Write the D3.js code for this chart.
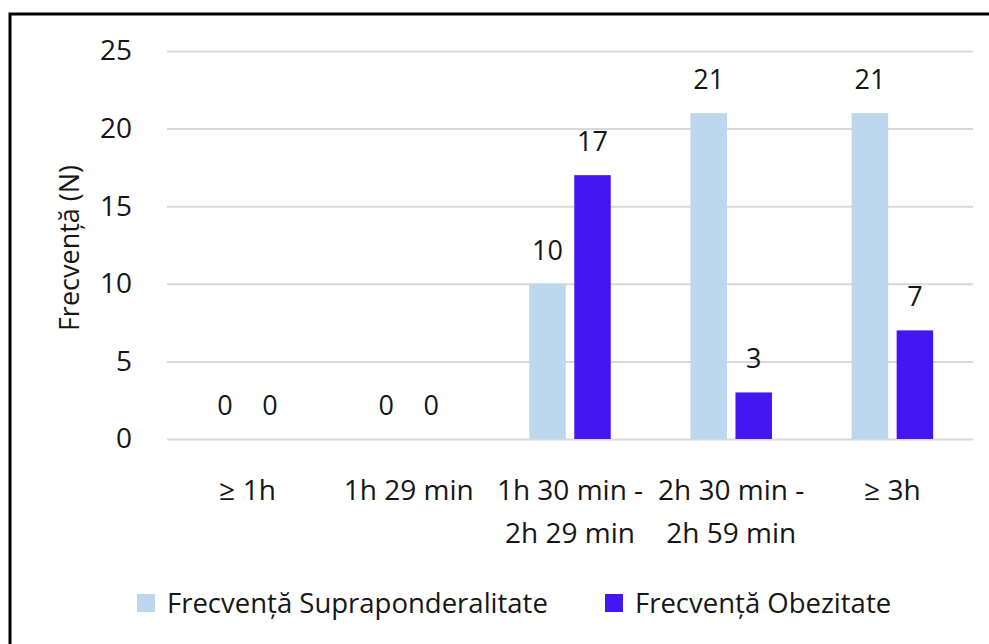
<!DOCTYPE html>
<html>
<head>
<meta charset="utf-8">
<script src="https://cdn.jsdelivr.net/npm/d3@7/dist/d3.min.js"></script>
<style>
  html, body { margin: 0; padding: 0; background: #fff; }
  svg { display: block; }
  text { font-family: "Open Sans", sans-serif; fill: #161616; }
</style>
</head>
<body>
<svg id="chart" width="989" height="644"></svg>
<script>
// Time categories on the x axis (two-line labels)
const categories = [
  ["≥ 1h"],
  ["1h 29 min"],
  ["1h 30 min -", "2h 29 min"],
  ["2h 30 min -", "2h 59 min"],
  ["≥ 3h"]
];
const seriesNames = ["Frecvență Supraponderalitate", "Frecvență Obezitate"];
const supraponderalitate = [0, 0, 10, 21, 21];
const obezitate = [0, 0, 17, 3, 7];
const seriesColors = ["#BDD7EE", "#4616F2"];
const yTicks = [0, 5, 10, 15, 20, 25];

const svg = d3.select("#chart");
const W = 989, H = 644;
const plot = { left: 167, right: 973, top: 51, bottom: 439 };

// outer frame
svg.append("rect")
  .attr("x", 10).attr("y", 14)
  .attr("width", W).attr("height", H)
  .attr("fill", "none").attr("stroke", "#000").attr("stroke-width", 3);

const x = d3.scaleBand()
  .domain(d3.range(categories.length))
  .range([plot.left, plot.right])
  .padding(0);

// two bars per category, 36.5px wide with a narrow gap
const inner = d3.scaleBand()
  .domain(d3.range(seriesNames.length))
  .range([x.bandwidth() / 2 - 40.75, x.bandwidth() / 2 + 40.75])
  .paddingInner(0.189)
  .paddingOuter(0);

const y = d3.scaleLinear().domain([0, 25]).range([plot.bottom, plot.top]);

// gridlines + y labels
const yAxis = d3.axisLeft(y)
  .tickValues(yTicks)
  .tickSize(-(plot.right - plot.left))
  .tickPadding(35)
  .tickFormat(d3.format("d"));

const ya = svg.append("g")
  .attr("transform", `translate(${plot.left},0)`)
  .call(yAxis);
ya.select(".domain").remove();
ya.selectAll(".tick line").attr("stroke", "#D9D9D9").attr("stroke-width", 2);
ya.selectAll(".tick text")
  .attr("font-size", 28)
  .attr("fill", "#161616")
  .attr("font-family", "'Open Sans', sans-serif");

// y axis title
svg.append("text")
  .attr("transform", `translate(79,${(plot.top + plot.bottom) / 2 + 3}) rotate(-90)`)
  .attr("text-anchor", "middle")
  .attr("font-size", 27)
  .text("Frecvență (N)");

// bars with value labels
const series = [supraponderalitate, obezitate];
const groups = svg.append("g");
series.forEach((vals, si) => {
  const g = groups.append("g");
  g.selectAll("rect")
    .data(vals)
    .join("rect")
    .attr("x", (d, i) => x(i) + inner(si))
    .attr("width", inner.bandwidth())
    .attr("y", d => y(d))
    .attr("height", d => y(0) - y(d))
    .attr("fill", seriesColors[si]);
  g.selectAll("text")
    .data(vals)
    .join("text")
    .attr("x", (d, i) => x(i) + inner(si) + inner.bandwidth() / 2)
    .attr("y", d => y(d) - 24)
    .attr("text-anchor", "middle")
    .attr("font-size", 27)
    .text(d => d);
});

// x category labels
const xl = svg.append("g");
categories.forEach((lines, i) => {
  const t = xl.append("text")
    .attr("x", x(i) + x.bandwidth() / 2)
    .attr("y", 500)
    .attr("text-anchor", "middle")
    .attr("font-size", 28);
  lines.forEach((ln, j) => {
    t.append("tspan")
      .attr("x", x(i) + x.bandwidth() / 2)
      .attr("dy", j === 0 ? 0 : 43)
      .text(ln);
  });
});

// legend
const legendItems = [
  { x: 137, name: seriesNames[0], color: seriesColors[0] },
  { x: 605, name: seriesNames[1], color: seriesColors[1] }
];
const lg = svg.append("g");
legendItems.forEach(it => {
  lg.append("rect")
    .attr("x", it.x).attr("y", 594)
    .attr("width", 18).attr("height", 18)
    .attr("fill", it.color);
  lg.append("text")
    .attr("x", it.x + 30)
    .attr("y", 613)
    .attr("font-size", 27.5)
    .text(it.name);
});
</script>
</body>
</html>
